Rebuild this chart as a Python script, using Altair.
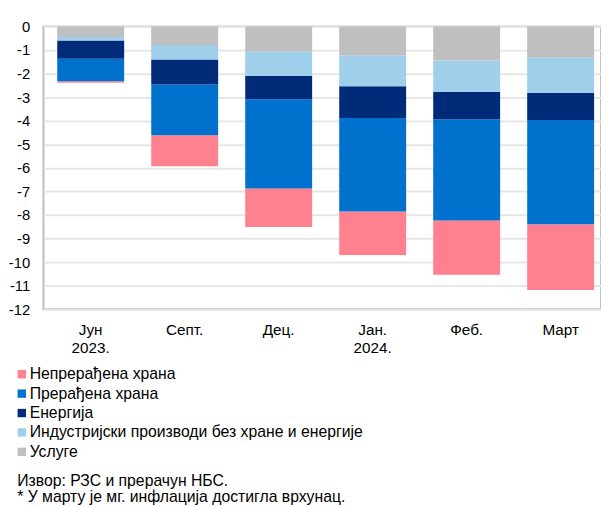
import altair as alt
import pandas as pd

categories = ["Јун 2023.", "Септ.", "Дец.", "Јан. 2024.", "Феб.", "Март"]
series = [
    "Непрерађена храна",
    "Прерађена храна",
    "Енергија",
    "Индустријски производи без хране и енергије",
    "Услуге",
]
colors = ["#FF808E", "#0072CE", "#002B78", "#A0CFEB", "#BFBFBF"]

unprocessed = [-0.07, -1.31, -1.63, -1.85, -2.31, -2.79]
processed = [-0.95, -2.16, -3.79, -3.97, -4.29, -4.42]
energy = [-0.78, -1.06, -0.99, -1.34, -1.16, -1.15]
industrial = [-0.14, -0.61, -1.03, -1.32, -1.34, -1.49]
services = [-0.45, -0.79, -1.07, -1.22, -1.44, -1.33]

y_ticks = list(range(0, -13, -1))
notes = ["Извор: РЗС и прерачун НБС.", "* У марту је мг. инфлација достигла врхунац."]

values_by_series = [unprocessed, processed, energy, industrial, services]
rows = []
for si, (name, vals) in enumerate(zip(series, values_by_series)):
    for cat, v in zip(categories, vals):
        rows.append({"cat": cat, "series": name, "value": v, "ord": len(series) - 1 - si})
df = pd.DataFrame(rows)

FONT = "Liberation Sans"

bars = alt.Chart(df).mark_bar().encode(
    x=alt.X(
        "cat:N",
        sort=categories,
        scale=alt.Scale(range=[0, 573], paddingInner=0.288, paddingOuter=0.1466),
        axis=alt.Axis(
            title=None,
            orient="bottom",
            domain=False,
            ticks=False,
            labelAngle=0,
            labelFont=FONT,
            labelFontSize=15.5,
            labelColor="#000000",
            labelPadding=13.5,
            labelLineHeight=18,
            labelBaseline="top",
            labelExpr="split(datum.label, ' ')",
        ),
    ),
    y=alt.Y(
        "value:Q",
        stack="zero",
        scale=alt.Scale(domain=[-12, 0], nice=False, zero=False),
        axis=alt.Axis(
            title=None,
            values=y_ticks,
            domain=False,
            ticks=False,
            grid=True,
            gridColor="#E6E6E6",
            gridWidth=2,
            labelFont=FONT,
            labelFontSize=15,
            labelColor="#000000",
            labelPadding=14,
            labelExpr="'' + datum.value",
        ),
    ),
    color=alt.Color(
        "series:N",
        scale=alt.Scale(domain=series, range=colors),
        legend=alt.Legend(
            title=None,
            orient="none",
            legendX=-30,
            legendY=345,
            direction="vertical",
            symbolType="square",
            symbolSize=72,
            symbolStrokeWidth=0,
            labelFont=FONT,
            labelFontSize=16,
            labelColor="#000000",
            labelLimit=600,
            labelOffset=0,
            rowPadding=3.7,
            padding=0,
        ),
    ),
    order=alt.Order("ord:Q"),
)

notes_df = pd.DataFrame({"t": ["\n".join(notes)]})
note_text = alt.Chart(notes_df).mark_text(
    align="left",
    baseline="alphabetic",
    font=FONT,
    fontSize=16,
    color="#000000",
    lineBreak="\n",
    lineHeight=16,
).encode(
    text="t:N",
    x=alt.value(-26.7),
    y=alt.value(466.4),
)

chart = (
    alt.layer(bars, note_text)
    .properties(
        width=566,
        height=287,
        autosize=alt.AutoSizeParams(type="none"),
        padding={"left": 36, "top": 15, "right": 0, "bottom": 197},
    )
    .configure_view(stroke="#BFBFBF", strokeWidth=2)
)

chart.save("out.html", embed_options={"renderer": "svg", "actions": False})
